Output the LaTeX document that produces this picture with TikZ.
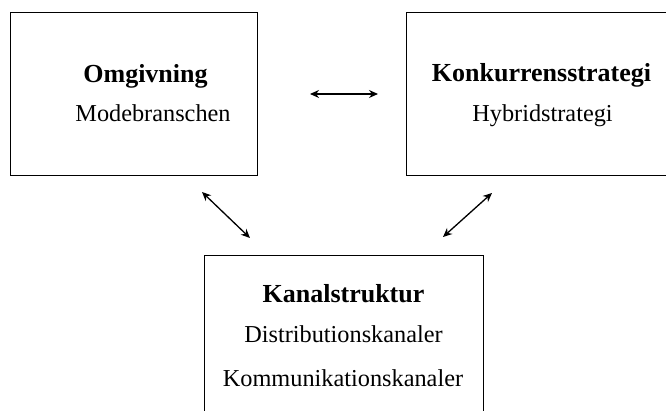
\documentclass[tikz,border=0pt]{standalone}
\usepackage{fontspec}
\setmainfont{Liberation Serif}
\usetikzlibrary{arrows.meta}
\begin{document}
\begin{tikzpicture}[>={Stealth[length=9pt, width=8pt]}, x=1pt, y=1pt,
    ramme/.style={draw, line width=0.9pt, inner sep=0pt},
    titel/.style={anchor=base, font=\fontsize{26}{30}\selectfont\bfseries},
    tekst/.style={anchor=base, font=\fontsize{24.3}{29}\selectfont},
    pil/.style={<->, line width=1.3pt}]
    \useasboundingbox (0,0) rectangle (666,411);

    % Omgivning
    \node[ramme, minimum width=247pt, minimum height=163pt] (omg) at (133.5,317.5) {};
    \node[titel] (omgT) at (145.5,328) {Omgivning};
    \node[tekst] (omgS) at (153,289) {Modebranschen};

    % Konkurrensstrategi
    \node[ramme, minimum width=274pt, minimum height=163pt] (konk) at (543,317.5) {};
    \node[titel] (konkT) at (541.5,329) {Konkurrensstrategi};
    \node[tekst] (konkS) at (542.5,289) {Hybridstrategi};

    % Kanalstruktur
    \node[ramme, minimum width=279pt, minimum height=176pt] (kanal) at (343.5,68) {};
    \node[titel] (kanalT) at (343.5,108) {Kanalstruktur};
    \node[tekst] (kanalD) at (343.5,68) {Distributionskanaler};
    \node[tekst] (kanalK) at (343,24) {Kommunikationskanaler};

    % pilespidser
    \coordinate (h1) at (310,317);
    \coordinate (h2) at (378,317);
    \coordinate (v1) at (202,219);
    \coordinate (v2) at (250,173);
    \coordinate (r1) at (492,218);
    \coordinate (r2) at (443,174);

    \draw[pil] (h1) -- (h2);
    \draw[pil] (v1) -- (v2);
    \draw[pil] (r1) -- (r2);
\end{tikzpicture}
\end{document}
